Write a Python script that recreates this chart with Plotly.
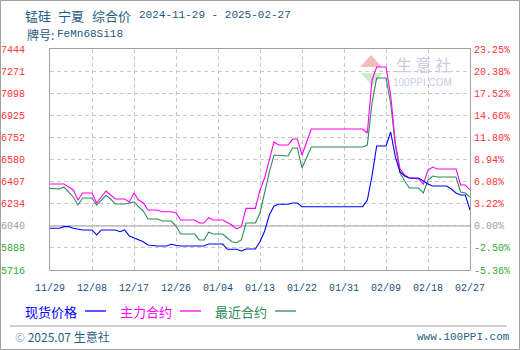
import plotly.graph_objects as go

# ---------------- data ----------------
title_words = ["锰硅", "宁夏", "综合价"]
date_span = "2024-11-29 - 2025-02-27"
grade_label = "牌号:"
grade_code = "FeMn68Si18"

x_tick_dates = ["2024-11-29", "2024-12-08", "2024-12-17", "2024-12-26", "2025-01-04",
                "2025-01-13", "2025-01-22", "2025-01-31", "2025-02-09", "2025-02-18", "2025-02-27"]
x_tick_labels = ["11/29", "12/08", "12/17", "12/26", "01/04", "01/13",
                 "01/22", "01/31", "02/09", "02/18", "02/27"]

price_labels = ["5716", "5888", "6040", "6234", "6407", "6580", "6752", "6925", "7098", "7271", "7444"]
pct_labels = ["-5.36%", "-2.50%", "0.00%", "3.22%", "6.08%", "8.94%", "11.80%",
              "14.66%", "17.52%", "20.38%", "23.25%"]

spot_dates = ["2024-11-29", "2024-12-01", "2024-12-02", "2024-12-03", "2024-12-04", "2024-12-06",
              "2024-12-08", "2024-12-09", "2024-12-10", "2024-12-13", "2024-12-14", "2024-12-15",
              "2024-12-16", "2024-12-18", "2024-12-19", "2024-12-20", "2024-12-22", "2024-12-24",
              "2024-12-25", "2024-12-26", "2024-12-27", "2025-01-01", "2025-01-02", "2025-01-05",
              "2025-01-06", "2025-01-08", "2025-01-09", "2025-01-10", "2025-01-12", "2025-01-13",
              "2025-01-14", "2025-01-15", "2025-01-16", "2025-01-17", "2025-01-19", "2025-01-20",
              "2025-01-21", "2025-01-22", "2025-02-04", "2025-02-05", "2025-02-06", "2025-02-07",
              "2025-02-09", "2025-02-10", "2025-02-11", "2025-02-12", "2025-02-13", "2025-02-14",
              "2025-02-16", "2025-02-17", "2025-02-18", "2025-02-19", "2025-02-22", "2025-02-23",
              "2025-02-24", "2025-02-25", "2025-02-26", "2025-02-27"]
spot_values = [6042, 6042, 6055, 6055, 6042, 6029,
               6029, 5990, 6029, 6029, 6015, 6029,
               5982, 5951, 5937, 5911, 5904, 5904,
               5917, 5910, 5904, 5904, 5919, 5919,
               5878, 5878, 5865, 5880, 5880, 5937,
               6021, 6146, 6217, 6230, 6230, 6240,
               6240, 6211, 6211, 6263, 6451, 6686,
               6686, 6795, 6600, 6482, 6451, 6435,
               6435, 6412, 6388, 6373, 6373, 6349,
               6318, 6302, 6302, 6185]

main_dates = ["2024-11-29", "2024-12-02", "2024-12-04", "2024-12-05", "2024-12-06", "2024-12-08",
              "2024-12-09", "2024-12-11", "2024-12-13", "2024-12-15", "2024-12-16", "2024-12-17",
              "2024-12-18", "2024-12-19", "2024-12-20", "2024-12-22", "2024-12-23", "2024-12-25",
              "2024-12-26", "2024-12-27", "2024-12-30", "2024-12-31", "2025-01-01", "2025-01-02",
              "2025-01-03", "2025-01-05", "2025-01-07", "2025-01-08", "2025-01-09", "2025-01-10",
              "2025-01-12", "2025-01-13", "2025-01-14", "2025-01-15", "2025-01-16", "2025-01-17",
              "2025-01-19", "2025-01-20", "2025-01-21", "2025-01-22", "2025-01-24", "2025-02-04",
              "2025-02-05", "2025-02-06", "2025-02-07", "2025-02-09", "2025-02-10", "2025-02-11",
              "2025-02-12", "2025-02-13", "2025-02-14", "2025-02-16", "2025-02-17", "2025-02-18",
              "2025-02-19", "2025-02-20", "2025-02-24", "2025-02-25", "2025-02-26", "2025-02-27"]
main_values = [6388, 6388, 6342, 6263, 6318, 6318,
               6240, 6334, 6271, 6271, 6248, 6318,
               6263, 6240, 6185, 6185, 6172, 6172,
               6162, 6107, 6107, 6083, 6083, 6125,
               6107, 6107, 6068, 6037, 6055, 6198,
               6198, 6342, 6435, 6576, 6717, 6693,
               6693, 6740, 6740, 6615, 6818, 6818,
               6787, 7202, 7303, 7303, 7084, 6709,
               6506, 6459, 6435, 6428, 6388, 6498,
               6521, 6506, 6506, 6381, 6381, 6342]

near_dates = ["2024-11-29", "2024-12-01", "2024-12-02", "2024-12-03", "2024-12-04", "2024-12-05",
              "2024-12-06", "2024-12-08", "2024-12-09", "2024-12-11", "2024-12-12", "2024-12-13",
              "2024-12-15", "2024-12-16", "2024-12-17", "2024-12-18", "2024-12-19", "2024-12-20",
              "2024-12-22", "2024-12-23", "2024-12-25", "2024-12-26", "2024-12-27", "2024-12-30",
              "2024-12-31", "2025-01-01", "2025-01-02", "2025-01-03", "2025-01-05", "2025-01-06",
              "2025-01-07", "2025-01-08", "2025-01-09", "2025-01-10", "2025-01-12", "2025-01-13",
              "2025-01-14", "2025-01-15", "2025-01-16", "2025-01-19", "2025-01-20", "2025-01-21",
              "2025-01-22", "2025-01-24", "2025-02-04", "2025-02-05", "2025-02-06", "2025-02-07",
              "2025-02-09", "2025-02-10", "2025-02-11", "2025-02-12", "2025-02-13", "2025-02-14",
              "2025-02-16", "2025-02-17", "2025-02-18", "2025-02-19", "2025-02-20", "2025-02-24",
              "2025-02-25", "2025-02-26", "2025-02-27"]
near_values = [6354, 6349, 6365, 6326, 6287, 6224,
               6279, 6279, 6224, 6300, 6271, 6232,
               6232, 6240, 6248, 6209, 6177, 6115,
               6115, 6099, 6099, 6060, 5997, 5997,
               5951, 5951, 6011, 5997, 5997, 5966,
               5937, 5929, 5951, 6083, 6083, 6162,
               6326, 6482, 6615, 6607, 6670, 6670,
               6514, 6678, 6678, 6693, 7022, 7217,
               7217, 7022, 6693, 6474, 6412, 6357,
               6357, 6318, 6420, 6451, 6443, 6443,
               6326, 6318, 6287]

series_names = ["现货价格", "主力合约", "最近合约"]
series_colors = ["#0000ff", "#ff00ff", "#2e8b57"]

# ---------------- figure ----------------
W, H = 520, 350
PL, PR, PT, PB = 50, 470, 49, 270  # plot area in pixels


def px_x(x):
    return (x - PL) / (PR - PL)


def px_y(y):
    return (PB - y) / (PB - PT)


y_min, y_max = 5716, 7444
n_ticks = len(price_labels)
y_ticks = [y_min + i * (y_max - y_min) / (n_ticks - 1) for i in range(n_ticks)]


def tick_color(i):
    if i < 2:
        return "#33aa33"
    if i == 2:
        return "#a0a0a0"
    return "#ff3333"


left_text = [f"<span style='color:{tick_color(i)}'>{t}</span>" for i, t in enumerate(price_labels)]
right_text = [f"<span style='color:{tick_color(i)}'>{t}</span>" for i, t in enumerate(pct_labels)]

fig = go.Figure()
fig.add_trace(go.Scatter(x=near_dates, y=near_values, mode="lines",
                         line=dict(color=series_colors[2], width=1.1), name=series_names[2]))
fig.add_trace(go.Scatter(x=main_dates, y=main_values, mode="lines",
                         line=dict(color=series_colors[1], width=1.1), name=series_names[1]))
fig.add_trace(go.Scatter(x=spot_dates, y=spot_values, mode="lines",
                         line=dict(color=series_colors[0], width=1.1), name=series_names[0]))
# invisible trace so that the right-hand percent axis is drawn
fig.add_trace(go.Scatter(x=spot_dates, y=spot_values, mode="lines", yaxis="y2",
                         line=dict(color="rgba(0,0,0,0)", width=0), hoverinfo="skip"))

mono = "Liberation Mono, DejaVu Sans Mono, monospace"
cjk = "Noto Sans CJK SC, sans-serif"
grid_col = "#c8c8c8"
title_col = "#1d5a85"

fig.update_layout(
    width=W, height=H,
    margin=dict(l=PL, r=W - PR, t=PT, b=H - PB, pad=0),
    paper_bgcolor="white", plot_bgcolor="white",
    showlegend=False,
    xaxis=dict(type="date", range=[x_tick_dates[0], x_tick_dates[-1]], automargin=False,
               tickmode="array", tickvals=x_tick_dates, ticktext=x_tick_labels,
               showgrid=True, gridcolor=grid_col, griddash="4px,3px", gridwidth=1,
               showline=True, linecolor="#a0a0a0", linewidth=1, mirror=True,
               ticks="", ticklabelstandoff=8, zeroline=False,
               tickfont=dict(family=mono, size=10, color="#1a4f7a")),
    yaxis=dict(range=[y_min, y_max], tickmode="array", tickvals=y_ticks, ticktext=left_text,
               automargin=False,
               showgrid=True, gridcolor=grid_col, griddash="4px,3px", gridwidth=1,
               showline=True, linecolor="#a0a0a0", linewidth=1, mirror=True,
               ticks="", ticklabelstandoff=22, zeroline=False,
               tickfont=dict(family=mono, size=10)),
    yaxis2=dict(range=[y_min, y_max], overlaying="y", side="right", automargin=False,
                tickmode="array", tickvals=y_ticks, ticktext=right_text,
                showgrid=False, showline=False, zeroline=False, ticks="",
                ticklabelstandoff=3, tickfont=dict(family=mono, size=10)),
)

shapes = []
# zero (base price) line
shapes.append(dict(type="line", xref="paper", yref="y", x0=0, x1=1, y0=y_ticks[2], y1=y_ticks[2],
                   line=dict(color="#a0a0a0", width=1.2), layer="below"))
# image border
shapes.append(dict(type="rect", xref="paper", yref="paper",
                   x0=px_x(0.5), x1=px_x(W - 0.5), y0=px_y(0.5), y1=px_y(H - 0.5),
                   line=dict(color="#a0a0a0", width=1)))
# footer separator
shapes.append(dict(type="line", xref="paper", yref="paper",
                   x0=px_x(10), x1=px_x(507), y0=px_y(326), y1=px_y(326),
                   line=dict(color="#a0a0a0", width=1)))
# watermark triangles
shapes.append(dict(type="path", xref="paper", yref="paper",
                   path=f"M {px_x(371)} {px_y(55)} L {px_x(360)} {px_y(67)} L {px_x(382)} {px_y(67)} Z",
                   fillcolor="#f5bcbc", line=dict(width=0), layer="below"))
shapes.append(dict(type="path", xref="paper", yref="paper",
                   path=f"M {px_x(361)} {px_y(73)} L {px_x(383)} {px_y(73)} L {px_x(372)} {px_y(86)} Z",
                   fillcolor="#cdeccd", line=dict(width=0), layer="below"))


def label(text, cx, cy, font):
    return dict(text=text, xref="paper", yref="paper", x=px_x(cx), y=px_y(cy),
                xanchor="center", yanchor="middle", showarrow=False, font=font)


annotations = []
# titles (positioned by their centres)
for word, cx in zip(title_words, [38, 71, 111]):
    annotations.append(label(word, cx, 15, dict(family=cjk, size=13, color=title_col)))
annotations.append(label(date_span, 215, 15, dict(family=mono, size=11, color=title_col)))
annotations.append(label(grade_label, 40, 34, dict(family=cjk, size=12, color=title_col)))
annotations.append(label(grade_code, 90, 34, dict(family=mono, size=11, color=title_col)))
# watermark text
annotations.append(label("生 意 社", 423, 64, dict(family=cjk, size=16, color="#c9cde0")))
annotations.append(label("100PPI.COM", 422, 82,
                         dict(family="Liberation Sans, sans-serif", size=10, color="#c9cde0")))
# legend
legend_x = [25, 120, 215]
for name, col, lx in zip(series_names, series_colors, legend_x):
    annotations.append(label(name, lx + 26, 311, dict(family=cjk, size=13, color=col)))
    shapes.append(dict(type="line", xref="paper", yref="paper",
                       x0=px_x(lx + 60), x1=px_x(lx + 81), y0=px_y(311), y1=px_y(311),
                       line=dict(color=col, width=1.3)))
# footer
annotations.append(label("<span style='color:#9ab0c0'>©</span> 2025.07 生意社", 62, 336,
                         dict(family=cjk, size=12, color="#1f5f7f")))
annotations.append(label("www.100PPI.com", 463, 337, dict(family=mono, size=11, color="#1f5f7f")))

fig.update_layout(shapes=shapes, annotations=annotations)
fig.write_html("out.html")
